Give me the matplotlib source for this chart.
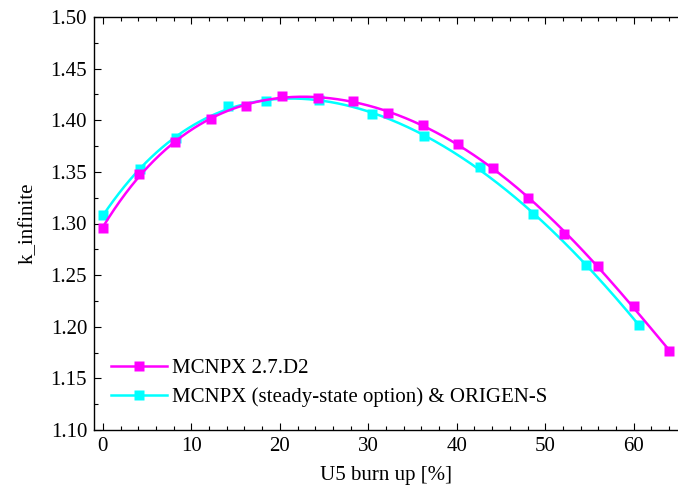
import numpy as np
import matplotlib
matplotlib.use('Agg')
from matplotlib import pyplot as plt
from matplotlib.ticker import MultipleLocator, FormatStrFormatter

# values
burnup_mcnpx = [0.0, 4.1, 8.2, 12.2, 16.2, 20.2, 24.3, 28.25, 32.2, 36.2,
                40.15, 44.1, 48.1, 52.1, 56.0, 60.0, 63.95]
k_mcnpx = [1.2954, 1.3482, 1.3786, 1.4009, 1.4138, 1.4235, 1.4219, 1.4186,
           1.4070, 1.3954, 1.3767, 1.3538, 1.3244, 1.2898, 1.2588, 1.2201,
           1.1768]

burnup_origen = [0.0, 4.2, 8.3, 14.2, 18.45, 24.4, 30.4, 36.3, 42.6, 48.6,
                 54.6, 60.6]
k_origen = [1.3080, 1.3530, 1.3825, 1.4138, 1.4190, 1.4195, 1.4058, 1.3847,
            1.3547, 1.3092, 1.2595, 1.2017]

label_mcnpx = 'MCNPX 2.7.D2'
label_origen = 'MCNPX (steady-state option) & ORIGEN-S'


def smooth_line(x, y, deg=5, n=300):
    # least-squares polynomial through the points, like the fitted curves
    coef = np.polyfit(x, y, deg)
    xs = np.linspace(min(x), max(x), n)
    return xs, np.polyval(coef, xs)


plt.rcParams['font.family'] = ['Liberation Serif', 'DejaVu Serif']
plt.rcParams['font.size'] = 15

magenta = '#ff00ff'
cyan = '#00ffff'

fig = plt.figure(figsize=(6.78, 4.91), dpi=100)
ax = fig.add_axes([94 / 678, 61 / 491, 584 / 678, 413 / 491])

xs, ys = smooth_line(burnup_origen, k_origen)
ax.plot(xs, ys, color=cyan, lw=1.8)
ax.plot(burnup_origen, k_origen, 's', color=cyan, ms=6.8, mec='none')

xs, ys = smooth_line(burnup_mcnpx, k_mcnpx)
ax.plot(xs, ys, color=magenta, lw=1.8)
ax.plot(burnup_mcnpx, k_mcnpx, 's', color=magenta, ms=6.8, mec='none')

# legend handles: line with a square marker in the middle
ax.plot([], [], '-s', color=magenta, lw=1.8, ms=6.8, mec='none', label=label_mcnpx)
ax.plot([], [], '-s', color=cyan, lw=1.8, ms=6.8, mec='none', label=label_origen)
ax.legend(loc='lower left', bbox_to_anchor=(0.015, 0.035), frameon=False,
          handlelength=2.7, handletextpad=0.2, labelspacing=0.45,
          borderaxespad=0, fontsize=15)

ax.set_xlim(-1, 65)
ax.set_ylim(1.10, 1.50)
ax.xaxis.set_major_locator(MultipleLocator(10))
ax.xaxis.set_minor_locator(MultipleLocator(2))
ax.yaxis.set_major_locator(MultipleLocator(0.05))
ax.yaxis.set_minor_locator(MultipleLocator(0.025))
ax.yaxis.set_major_formatter(FormatStrFormatter('%.2f'))

ax.spines['right'].set_visible(False)
for s in ('left', 'bottom', 'top'):
    ax.spines[s].set_linewidth(1.0)
ax.tick_params(which='both', direction='in', top=True, right=False,
               labelsize=15, width=0.8)
ax.tick_params(which='major', length=5, pad=5)
ax.tick_params(which='minor', length=3)

ax.set_xlabel('U5 burn up [%]', fontsize=15, labelpad=7)
ax.set_ylabel('k_infinite', fontsize=15, labelpad=9)

fig.savefig('out.png', dpi=100)
